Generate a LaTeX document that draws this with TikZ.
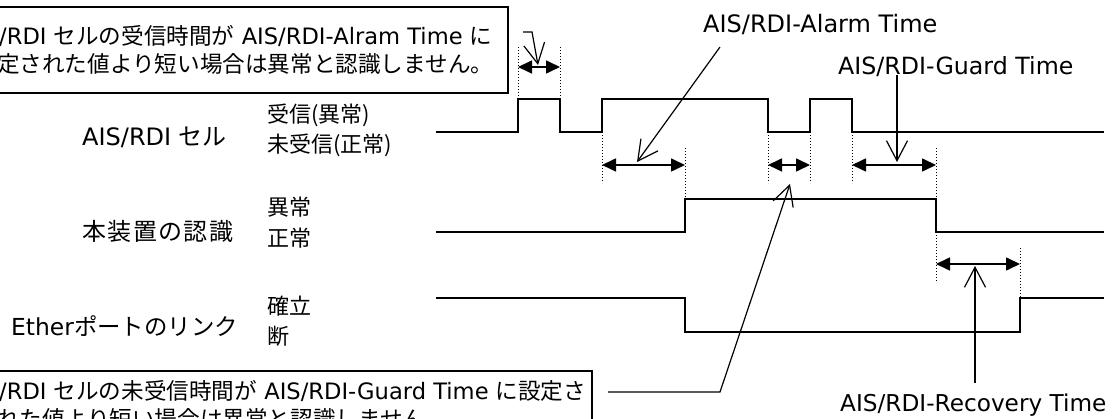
\documentclass[tikz,border=0pt]{standalone}
\usepackage{fontspec}
\setmainfont{DejaVu Sans}
\newfontfamily\jp{Noto Sans CJK JP}
\newfontfamily\jpw[LetterSpace=6]{Noto Sans CJK JP}
\usetikzlibrary{arrows.meta}
\begin{document}
\begin{tikzpicture}[x=1pt,y=-1pt,
  sig/.style={line width=1.7pt},
  dotln/.style={line width=0.9pt, dash pattern=on 1.1pt off 1.9pt},
  dimarr/.style={line width=1.6pt, {Triangle[length=14pt,width=13pt]}-{Triangle[length=14pt,width=13pt]}},
  callout/.style={line width=1.2pt, -{Straight Barb[length=20pt,width=21pt,line width=1.2pt]}},
  boxln/.style={line width=1.3pt},
  txt/.style={inner sep=0pt, anchor=base west, font=\fontsize{22}{26}\selectfont},
  boxtxt/.style={inner sep=0pt, anchor=base west, font=\fontsize{22.6}{26}\selectfont},
  rowlbl/.style={inner sep=0pt, anchor=base west, font=\fontsize{24}{28}\selectfont},
  tlbl/.style={inner sep=0pt, anchor=base west, font=\fontsize{23.7}{28}\selectfont}]
\useasboundingbox (0,0) rectangle (1114,419);
\begin{scope}
\clip (0,0) rectangle (1114,419);
% boxes
\draw[boxln] (-20,7) rectangle (508,93);
\draw[boxln] (-20,371) rectangle (592,450);
\node[boxtxt] (boxA1) at (-1,45) {/RDI {\jp セルの受信時間が} AIS/RDI-Alram Time {\jp に}};
\node[boxtxt] (boxA2) at (-3,73) {\jp 定された値より短い場合は異常と認識しません。};
\node[boxtxt] (boxB1) at (-1,400) {/RDI {\jp セルの未受信時間が} AIS/RDI-Guard Time {\jp に設定さ}};
\node[boxtxt] (boxB2) at (-3,428) {\jp れた値より短い場合は異常と認識しません。};
% row labels
\node[rowlbl] (rowA) at (82,146) {AIS/RDI {\jp セル}};
\node[rowlbl] (rowB) at (82,241) {\jpw 本装置の認識};
\node[rowlbl, font=\fontsize{23.4}{28}\selectfont] (rowC) at (11,336) {Ether{\jp ポートのリンク}};
\node[txt] (sA1) at (267,123) {\jp 受信(異常)};
\node[txt] (sA0) at (267,153) {\jp 未受信(正常)};
\node[txt] (sB1) at (267,216) {\jp 異常};
\node[txt] (sB0) at (267,247) {\jp 正常};
\node[txt] (sC1) at (267,315) {\jp 確立};
\node[txt] (sC0) at (267,345) {\jp 断};
% time labels
\node[tlbl, font=\fontsize{24}{28}\selectfont] (lalarm) at (703,33) {AIS/RDI-Alarm Time};
\node[tlbl] (lguard) at (838,75) {AIS/RDI-Guard Time};
\node[tlbl, font=\fontsize{23.2}{28}\selectfont] (lrecov) at (840,412) {AIS/RDI-Recovery Time};
% signals
\draw[sig] (436,132) -- (518,132) -- (518,99) -- (560,99) -- (560,132) -- (602,132) -- (602,99) -- (768,99) -- (768,132) -- (810,132) -- (810,99) -- (852,99) -- (852,132) -- (1104,132);
\draw[sig] (436,232) -- (685,232) -- (685,199) -- (936,199) -- (936,232) -- (1104,232);
\draw[sig] (436,298) -- (685,298) -- (685,332) -- (1020,332) -- (1020,298) -- (1104,298);
% dotted guides
\draw[dotln] (518,47) -- (518,99);
\draw[dotln] (560,47) -- (560,99);
\draw[dotln] (602,132) -- (602,183);
\draw[dotln] (685,148) -- (685,199);
\draw[dotln] (768,132) -- (768,183);
\draw[dotln] (810,132) -- (810,183);
\draw[dotln] (852,132) -- (852,183);
\draw[dotln] (936,148) -- (936,199);
\draw[dotln] (936,232) -- (936,283);
\draw[dotln] (1020,248) -- (1020,298);
% dimension arrows
\coordinate (d1a) at (518,67); \coordinate (d1b) at (560,67);
\coordinate (d2a) at (602,165); \coordinate (d2b) at (685,165);
\coordinate (d3a) at (768,165); \coordinate (d3b) at (810,165);
\coordinate (d4a) at (852,165); \coordinate (d4b) at (936,165);
\coordinate (d5a) at (936,264); \coordinate (d5b) at (1020,264);
\draw[dimarr] (d1a) -- (d1b);
\draw[dimarr] (d2a) -- (d2b);
\draw[dimarr] (d3a) -- (d3b);
\draw[dimarr] (d4a) -- (d4b);
\draw[dimarr] (d5a) -- (d5b);
% callouts
\coordinate (c0a) at (523,32); \coordinate (c0b) at (532,32); \coordinate (c0t) at (538,65);
\draw[callout] (c0a) -- (c0b) -- (c0t);
\coordinate (c1a) at (720,47); \coordinate (c1t) at (637,162);
\draw[callout] (c1a) -- (c1t);
\coordinate (c2a) at (897,75); \coordinate (c2t) at (897,162);
\draw[callout] (c2a) -- (c2t);
\coordinate (c3a) at (975,383); \coordinate (c3t) at (975,266);
\draw[callout] (c3a) -- (c3t);
\coordinate (c4a) at (608,392); \coordinate (c4b) at (720,392); \coordinate (c4t) at (790,184);
\draw[callout] (c4a) -- (c4b) -- (c4t);
\end{scope}
\end{tikzpicture}
\end{document}
